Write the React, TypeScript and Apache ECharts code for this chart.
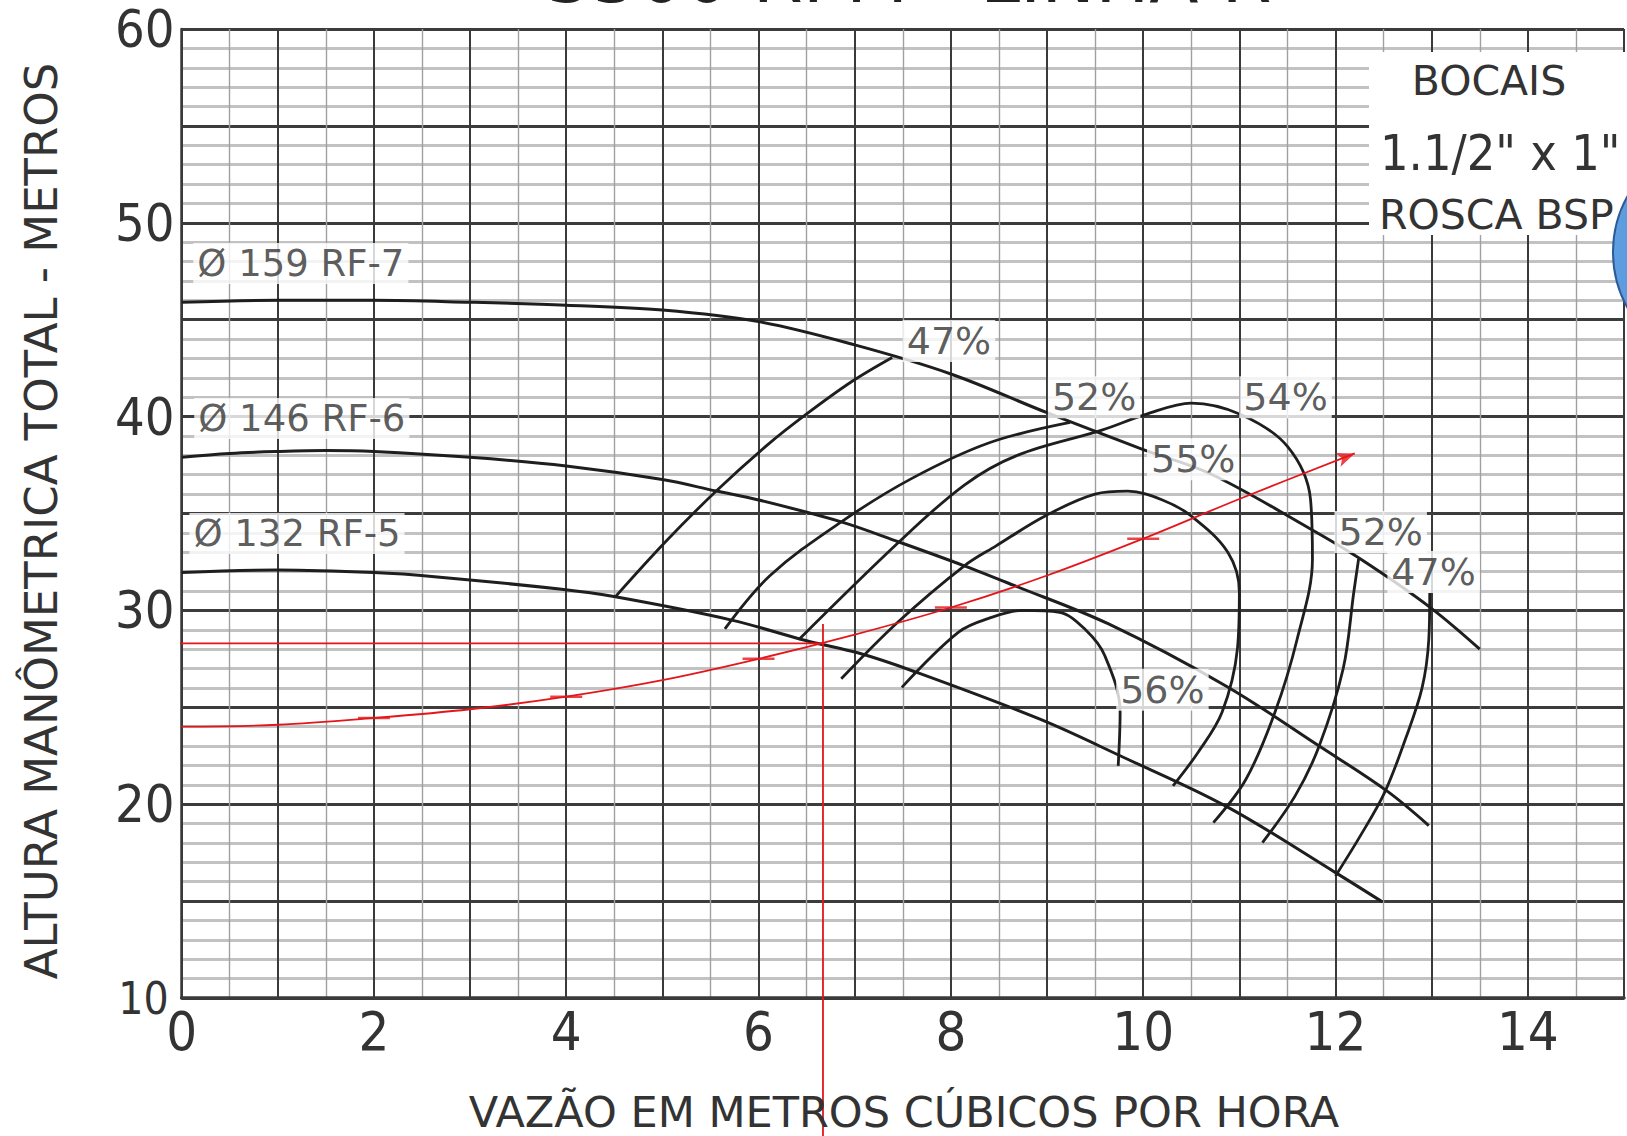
import React, { useEffect, useRef } from "react";
import * as echarts from "echarts";

type P = [number, number];

// ---- axes ----
const xTickLabels = [0, 2, 4, 6, 8, 10, 12, 14];
const yTickLabels = [10, 20, 30, 40, 50, 60];

// ---- impeller (head) curves ----
const impellerNames = ["Ø 159 RF-7", "Ø 146 RF-6", "Ø 132 RF-5"];
const rf7: P[] = [
  [0, 45.9], [1, 46.0], [2, 46.0], [3, 45.9], [4, 45.75], [5, 45.5], [6, 44.9],
  [7, 43.7], [8, 42.2], [9, 40.2], [10, 38.3], [10.72, 37.0], [11.74, 34.2],
  [12.26, 32.65], [12.98, 30.17], [13.5, 28.0],
];
const rf6: P[] = [
  [0, 37.9], [0.5, 38.1], [1, 38.2], [1.5, 38.25], [2, 38.2], [3, 37.9], [4, 37.45],
  [5, 36.75], [5.56, 36.16], [6, 35.7], [6.86, 34.57], [7.46, 33.53], [8.14, 32.3],
  [8.65, 31.3], [9.64, 29.3], [10.86, 26.1], [11.83, 23.0], [12.53, 20.7], [12.97, 18.9],
];
const rf5: P[] = [
  [0, 31.95], [1, 32.08], [2, 31.95], [2.63, 31.74], [3.93, 31.1], [4.51, 30.7],
  [5.72, 29.5], [6.49, 28.45], [7.04, 27.8], [7.59, 26.9], [8.92, 24.4], [9.76, 22.5],
  [10.86, 19.9], [12.0, 16.47], [12.49, 14.95],
];
const impellerLabelAnchors: P[] = [[1.24, 47.9], [1.25, 39.9], [1.2, 33.97]];

// ---- iso-efficiency curves ----
const eff47Left: P[] = [[4.51, 30.7], [5.03, 33.53], [5.56, 36.16], [6.09, 38.53], [6.49, 40.1], [6.97, 41.81], [7.39, 43.05]];
const eff52Left: P[] = [[5.65, 29.05], [6.12, 31.8], [6.86, 34.57], [7.59, 36.8], [8.4, 38.65], [9.24, 39.7]];
const eff54: P[] = [
  [6.42, 28.5], [7.46, 33.53], [8.14, 36.47], [8.69, 38.0], [9.57, 39.3], [10.02, 40.1],
  [10.5, 40.7], [11.02, 40.1], [11.5, 38.46], [11.74, 35.73], [11.76, 32.65], [11.6, 28.5],
  [11.37, 24.74], [11.07, 21.3], [10.73, 19.05],
];
const eff55: P[] = [
  [6.86, 26.47], [7.45, 29.4], [8.14, 32.3], [8.47, 33.33], [8.98, 34.87], [9.5, 36.0],
  [9.84, 36.15], [10.2, 35.7], [10.5, 34.87], [10.88, 33.0], [11.0, 30.94], [10.98, 28.03],
  [10.82, 24.74], [10.57, 22.67], [10.31, 20.95],
];
const eff56: P[] = [[7.49, 26.03], [8.08, 28.88], [8.4, 29.6], [8.75, 30.0], [9.13, 29.9], [9.4, 29.0], [9.6, 27.67], [9.76, 24.74], [9.74, 21.98]];
const eff52Right: P[] = [[12.24, 32.65], [12.19, 30.94], [12.08, 27.0], [11.83, 23.0], [11.58, 20.43], [11.24, 18.02]];
const eff47Right: P[] = [[12.98, 30.9], [12.97, 28.5], [12.9, 26.0], [12.73, 23.4], [12.51, 20.6], [12.25, 18.3], [12.0, 16.3]];

const effLabels = ["47%", "52%", "54%", "55%", "56%", "52%", "47%"];
const effLabelAnchors: P[] = [[7.98, 43.9], [9.49, 41.0], [11.48, 41.0], [10.52, 37.8], [10.2, 25.9], [12.47, 34.05], [13.02, 31.98]];

// ---- system curve and operating point ----
const systemCurve: P[] = [
  [0, 24.0], [1, 24.1], [2, 24.45], [3, 24.9], [4, 25.55], [5, 26.4], [6, 27.5], [7, 28.75],
  [8, 30.15], [9, 31.8], [10, 33.7], [11, 35.75], [12.2, 38.1],
];
const systemMarkX = [2, 4, 6, 8, 10];
const operatingPoint: P = [6.67, 28.3];
const crossLeftX = -1.68;
const crossTopY = 29.3;
const crossBottomY = 2.5;

// ---- texts ----
const titleText = "3500 RPM - LINHA R";
const xAxisTitle = "VAZÃO EM METROS CÚBICOS POR HORA";
const yAxisTitle = "ALTURA MANÔMETRICA TOTAL - METROS";
const noteLines = ["BOCAIS", '1.1/2" x 1"', "ROSCA BSP"];

const FONT = '"DejaVu Sans", sans-serif';
const FONT_C = '"DejaVu Sans Condensed", "DejaVu Sans", sans-serif';
const INK = "#1e1e1e";
const TXT = "#333";
const RED = "#e3161b";

function blackLine(data: P[], width = 2.8) {
  return {
    type: "line",
    data,
    smooth: 0.35,
    symbol: "none",
    silent: true,
    z: 3,
    lineStyle: { color: INK, width },
  };
}

export default function App() {
  const ref = useRef<HTMLDivElement>(null);

  useEffect(() => {
    const chart = echarts.init(ref.current!, null, { renderer: "svg" });

    const labelData = [
      ...impellerNames.map((n, i) => ({ value: impellerLabelAnchors[i], name: n, fs: 37 })),
      ...effLabels.map((n, i) => ({ value: effLabelAnchors[i], name: n, fs: 38 })),
    ].map((d) => ({
      value: d.value,
      name: d.name,
      label: { fontSize: d.fs },
    }));

    const last = systemCurve[systemCurve.length - 1];
    const yMin = yTickLabels[0];

    const option: any = {
      animation: false,
      backgroundColor: "#fff",
      grid: { left: 181.6, top: 29, width: 1451.9, height: 969, containLabel: false },
      xAxis: {
        type: "value",
        min: 0,
        max: 15,
        interval: 1,
        axisLine: { show: true, onZero: false, lineStyle: { color: "#3a3a3a", width: 3.5 } },
        axisTick: { show: false },
        minorTick: { show: true, splitNumber: 2, length: 0, lineStyle: { width: 0 } },
        splitLine: { show: true, lineStyle: { color: "#3a3a3a", width: 2 } },
        minorSplitLine: { show: true, lineStyle: { color: "#a0a0a0", width: 1.4 } },
        axisLabel: {
          show: true,
          margin: 6,
          fontFamily: FONT_C,
          fontSize: 54,
          color: TXT,
          formatter: (v: number) => (xTickLabels.includes(v) ? String(v) : ""),
        },
      },
      yAxis: {
        type: "value",
        min: 10,
        max: 60,
        interval: 5,
        axisLine: { show: true, onZero: false, lineStyle: { color: "#3a3a3a", width: 2.5 } },
        axisTick: { show: false },
        minorTick: { show: true, splitNumber: 5, length: 0, lineStyle: { width: 0 } },
        splitLine: { show: true, lineStyle: { color: "#3c3c3c", width: 3 } },
        minorSplitLine: { show: true, lineStyle: { color: "#c2c2c2", width: 3 } },
        axisLabel: {
          show: true,
          margin: 7,
          fontFamily: FONT_C,
          fontSize: 52,
          color: TXT,
          formatter: (v: number) =>
            v === yMin ? "{s|" + v + "}" : yTickLabels.includes(v) ? String(v) : "",
          rich: {
            s: { fontFamily: FONT_C, fontSize: 44, color: TXT, padding: [0, 6, 0, 0] },
          },
        },
      },
      series: [
        blackLine(rf7, 3),
        blackLine(rf6, 3),
        blackLine(rf5, 3),
        blackLine(eff47Left),
        blackLine(eff52Left),
        blackLine(eff54),
        blackLine(eff55),
        blackLine(eff56),
        blackLine(eff52Right),
        blackLine(eff47Right),
        {
          type: "line",
          data: systemCurve,
          smooth: 0.35,
          symbol: "none",
          silent: true,
          z: 4,
          lineStyle: { color: RED, width: 1.8 },
        },
        {
          type: "scatter",
          data: systemCurve.filter((p) => systemMarkX.includes(p[0])),
          symbol: "rect",
          symbolSize: [32, 2.5],
          itemStyle: { color: RED },
          silent: true,
          z: 4,
        },
        {
          type: "scatter",
          data: [last],
          symbol: "arrow",
          symbolSize: [11, 18],
          symbolRotate: -69,
          itemStyle: { color: RED },
          silent: true,
          z: 4,
        },
        {
          type: "line",
          data: [[crossLeftX, operatingPoint[1]], operatingPoint],
          clip: false,
          symbol: "none",
          silent: true,
          z: 4,
          lineStyle: { color: RED, width: 1.8 },
        },
        {
          type: "line",
          data: [[operatingPoint[0], crossTopY], [operatingPoint[0], crossBottomY]],
          clip: false,
          symbol: "none",
          silent: true,
          z: 4,
          lineStyle: { color: RED, width: 1.8 },
        },
        {
          type: "scatter",
          data: labelData,
          symbolSize: 0,
          silent: true,
          z: 8,
          label: {
            show: true,
            position: "inside",
            formatter: (p: any) => p.name,
            fontFamily: FONT,
            color: TXT,
            backgroundColor: "#fff",
            padding: [3, 4, 1, 4],
          },
        },
      ],
      graphic: [
        {
          type: "rect",
          z: 20,
          shape: { x: 1369, y: 52, width: 270, height: 183 },
          style: { fill: "#fff" },
        },
        {
          type: "text",
          z: 21,
          x: 1489,
          y: 81,
          style: { text: noteLines[0], fontFamily: FONT, fontSize: 41, fill: TXT, align: "center", verticalAlign: "middle" },
        },
        {
          type: "text",
          z: 21,
          x: 1380,
          y: 153,
          style: { text: noteLines[1], fontFamily: FONT_C, fontSize: 50, fill: TXT, align: "left", verticalAlign: "middle" },
        },
        {
          type: "text",
          z: 21,
          x: 1379,
          y: 215,
          style: { text: noteLines[2], fontFamily: FONT, fontSize: 41, fill: TXT, align: "left", verticalAlign: "middle" },
        },
        {
          type: "circle",
          z: 22,
          shape: { cx: 1728, cy: 252, r: 115 },
          style: {
            fill: {
              type: "linear", x: 0, y: 0, x2: 1, y2: 0,
              colorStops: [{ offset: 0, color: "#5f9fe0" }, { offset: 1, color: "#2a68b8" }],
            },
            stroke: "#2c5c98",
            lineWidth: 2,
          },
        },
        {
          type: "text",
          z: 21,
          x: 41.5,
          y: 521,
          rotation: Math.PI / 2,
          style: { text: yAxisTitle, fontFamily: FONT, fontSize: 45, fill: TXT, align: "center", verticalAlign: "middle" },
        },
        {
          type: "text",
          z: 21,
          x: 904,
          y: 1112,
          style: { text: xAxisTitle, fontFamily: FONT, fontSize: 43, fill: TXT, align: "center", verticalAlign: "middle" },
        },
        {
          type: "text",
          z: 21,
          x: 909,
          y: -23,
          style: { text: titleText, fontFamily: FONT, fontSize: 72, fill: "#222", align: "center", verticalAlign: "middle" },
        },
      ],
    };

    chart.setOption(option);
    return () => chart.dispose();
  }, []);

  return (
    <div
      ref={ref}
      style={{ position: "absolute", left: 0, top: 0, width: 1627, height: 1136, background: "#fff" }}
    />
  );
}
